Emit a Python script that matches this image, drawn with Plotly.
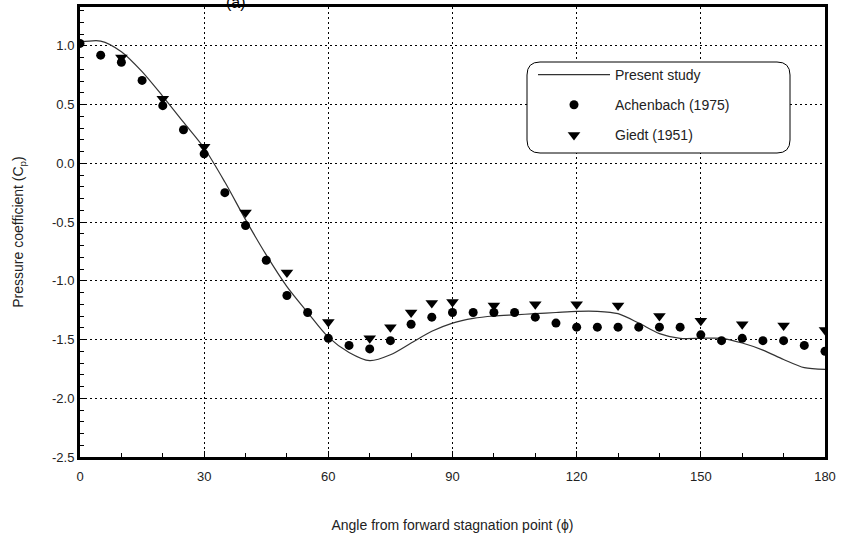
import plotly.graph_objects as go

# Present study (numerical curve)
present_x = [0, 5, 10, 15, 20, 25, 30, 35, 40, 45, 50, 55, 60, 65, 70, 75, 80, 85, 90,
             95, 100, 105, 110, 115, 120, 125, 130, 135, 140, 145, 150, 155, 160, 165, 170, 175, 180]
present_y = [1.03, 1.04, 0.95, 0.78, 0.57, 0.35, 0.13, -0.16, -0.48, -0.78, -1.05, -1.27, -1.48,
             -1.61, -1.68, -1.63, -1.53, -1.43, -1.36, -1.32, -1.30, -1.29, -1.28, -1.27, -1.26,
             -1.26, -1.28, -1.36, -1.45, -1.49, -1.49, -1.49, -1.53, -1.59, -1.67, -1.74, -1.755]

# Achenbach (1975)
ach_x = [0, 5, 10, 15, 20, 25, 30, 35, 40, 45, 50, 55, 60, 65, 70, 75, 80, 85, 90, 95, 100,
         105, 110, 115, 120, 125, 130, 135, 140, 145, 150, 155, 160, 165, 170, 175, 180]
ach_y = [1.02, 0.92, 0.86, 0.705, 0.49, 0.285, 0.08, -0.25, -0.53, -0.825, -1.125, -1.27, -1.49,
         -1.55, -1.58, -1.51, -1.37, -1.31, -1.27, -1.27, -1.27, -1.27, -1.31, -1.36, -1.395,
         -1.395, -1.395, -1.395, -1.395, -1.395, -1.46, -1.51, -1.49, -1.51, -1.51, -1.55, -1.60]

# Giedt (1951)
giedt_x = [10, 20, 30, 40, 50, 60, 70, 75, 80, 85, 90, 100, 110, 120, 130, 140, 150, 160, 170, 180]
giedt_y = [0.90, 0.55, 0.14, -0.42, -0.93, -1.35, -1.49, -1.395, -1.27, -1.19, -1.18, -1.21,
           -1.20, -1.20, -1.21, -1.30, -1.34, -1.37, -1.38, -1.42]

x_ticks = [0, 30, 60, 90, 120, 150, 180]
y_ticks = [1.0, 0.5, 0.0, -0.5, -1.0, -1.5, -2.0, -2.5]

FONT = "Liberation Sans, Arial, sans-serif"

fig = go.Figure()
fig.add_trace(go.Scatter(x=present_x, y=present_y, mode="lines", name="Present study",
                         line=dict(color="#333333", width=1.2, shape="spline", smoothing=0.8),
                         legendgroup="a"))
fig.add_trace(go.Scatter(x=ach_x, y=ach_y, mode="markers", name="Achenbach (1975)",
                         marker=dict(symbol="circle", size=9, color="black"),
                         legendgroup="b"))
fig.add_trace(go.Scatter(x=giedt_x, y=giedt_y, mode="markers", name="Giedt (1951)",
                         marker=dict(symbol="triangle-down", size=11, color="black"),
                         legendgroup="c"))

L, R, T, B = 80, 16, 7, 76
W, H = 841, 533
pw, ph = W - L - R, H - T - B

def px_x(p):
    return (p - L) / pw

def px_y(p):
    return (H - B - p) / ph

# rounded legend box
x0, x1 = px_x(527), px_x(790)
y0, y1 = px_y(153), px_y(62)
rx, ry = 13 / pw, 13 / ph
path = (f"M {x0+rx},{y1} L {x1-rx},{y1} Q {x1},{y1} {x1},{y1-ry} "
        f"L {x1},{y0+ry} Q {x1},{y0} {x1-rx},{y0} L {x0+rx},{y0} "
        f"Q {x0},{y0} {x0},{y0+ry} L {x0},{y1-ry} Q {x0},{y1} {x0+rx},{y1} Z")
fig.add_shape(type="path", path=path, xref="paper", yref="paper",
              line=dict(color="black", width=1), fillcolor="white", layer="above")

fig.add_annotation(text="(a)", xref="paper", yref="paper", x=px_x(224), y=1.0,
                   yanchor="bottom", yshift=-6, showarrow=False,
                   font=dict(family=FONT, size=16, color="black"))

fig.update_layout(
    width=W, height=H,
    margin=dict(l=L, r=R, t=T, b=B),
    paper_bgcolor="white", plot_bgcolor="white",
    font=dict(family=FONT, size=13, color="#222222"),
    showlegend=True,
    legend=dict(x=px_x(533), y=px_y(59), xanchor="left", yanchor="top",
                bgcolor="rgba(0,0,0,0)", borderwidth=0, tracegroupgap=9, itemwidth=72,
                font=dict(family=FONT, size=14, color="#222222")),
    xaxis=dict(range=[0, 180], tickvals=x_ticks, ticktext=[str(v) for v in x_ticks],
               automargin=False,
               showline=True, linewidth=3, linecolor="black", mirror=True,
               ticks="inside", ticklen=6, tickwidth=1, tickcolor="black",
               ticklabelstandoff=5,
               minor=dict(dtick=10, ticks="inside", ticklen=4, tickcolor="black", showgrid=False),
               showgrid=True, gridcolor="black", gridwidth=1, griddash="2px,3px",
               zeroline=False,
               title=dict(text="Angle from forward stagnation point (ϕ)", standoff=38,
                          font=dict(family=FONT, size=14, color="#222222"))),
    yaxis=dict(range=[-2.5, 1.33], tickvals=y_ticks, ticktext=[f"{v:.1f}" for v in y_ticks],
               automargin=False,
               showline=True, linewidth=3, linecolor="black", mirror=True,
               ticks="inside", ticklen=6, tickwidth=1, tickcolor="black",
               minor=dict(dtick=0.1, ticks="inside", ticklen=4, tickcolor="black", showgrid=False),
               showgrid=True, gridcolor="black", gridwidth=1, griddash="2px,3px",
               zeroline=False,
               title=dict(text="Pressure coefficient (C<sub>p</sub>)", standoff=26,
                          font=dict(family=FONT, size=14, color="#222222"))),
)

fig.write_html("out.html", config={"displayModeBar": False},
               post_script="document.body.style.margin='0';")
